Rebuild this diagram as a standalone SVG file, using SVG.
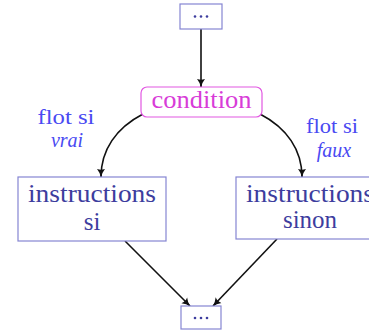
<svg xmlns="http://www.w3.org/2000/svg" width="369" height="331" viewBox="0 0 369 331">
<style>
.box{fill:#fff;stroke:#8585d2;stroke-width:1.2}
.bt{font-size:25px;fill:#3d3d9e;text-anchor:middle}
.lb{font-size:20px;fill:#4a4af2;text-anchor:middle}
.cond{fill:#fff;stroke:#e258e2;stroke-width:1.2}
.ct{font-size:25px;fill:#d83cd8;text-anchor:middle}
.dots{fill:#3d3d9e}
.edge{fill:none;stroke:#111;stroke-width:1.6;marker-end:url(#ah)}
</style>
<defs>
<marker id="ah" viewBox="0 0 10 10" refX="9" refY="5" markerWidth="9" markerHeight="9" orient="auto" markerUnits="userSpaceOnUse">
<path d="M0,0.5 Q4,4 10,5 Q4,6 0,9.5 Q2,5 0,0.5Z" fill="#111"/>
</marker>
</defs>
<g id="connectors">
<path class="edge" d="M201,29 L201,87"/>
<path class="edge" d="M143,114 C116,128 101,150 101,177"/>
<path class="edge" d="M260,114 C287,128 302,150 302,177"/>
<path class="edge" d="M125,241 L190,306"/>
<path class="edge" d="M277,239 L213,306"/>
</g>
<g id="start">
<rect class="box" x="180" y="4" width="42" height="25"/>
<circle class="dots" cx="195" cy="16.5" r="1.3"/><circle class="dots" cx="201" cy="16.5" r="1.3"/><circle class="dots" cx="207" cy="16.5" r="1.3"/>
</g>
<g id="condition">
<rect class="cond" x="141" y="87" width="121" height="30" rx="6"/>
<text class="ct" font-family="Liberation Serif, serif" x="201.5" y="108" textLength="100" lengthAdjust="spacingAndGlyphs">condition</text>
</g>
<g id="label-vrai" font-family="Liberation Serif, serif">
<text class="lb" x="66" y="124" textLength="57" lengthAdjust="spacingAndGlyphs">flot si</text>
<text class="lb" x="67" y="147" font-style="italic">vrai</text>
</g>
<g id="label-faux" font-family="Liberation Serif, serif">
<text class="lb" x="332" y="133" textLength="52" lengthAdjust="spacingAndGlyphs">flot si</text>
<text class="lb" x="334" y="157" font-style="italic">faux</text>
</g>
<g id="instructions-si" font-family="Liberation Serif, serif">
<rect class="box" x="18" y="177" width="148" height="64"/>
<text class="bt" x="92" y="202" textLength="128" lengthAdjust="spacingAndGlyphs">instructions</text>
<text class="bt" x="92" y="230">si</text>
</g>
<g id="instructions-sinon" font-family="Liberation Serif, serif">
<rect class="box" x="236" y="177" width="148" height="62"/>
<text class="bt" x="310" y="202" textLength="128" lengthAdjust="spacingAndGlyphs">instructions</text>
<text class="bt" x="310" y="228">sinon</text>
</g>
<g id="end">
<rect class="box" x="181" y="306" width="40" height="23"/>
<circle class="dots" cx="195" cy="318" r="1.3"/><circle class="dots" cx="201" cy="318" r="1.3"/><circle class="dots" cx="207" cy="318" r="1.3"/>
</g>
</svg>
